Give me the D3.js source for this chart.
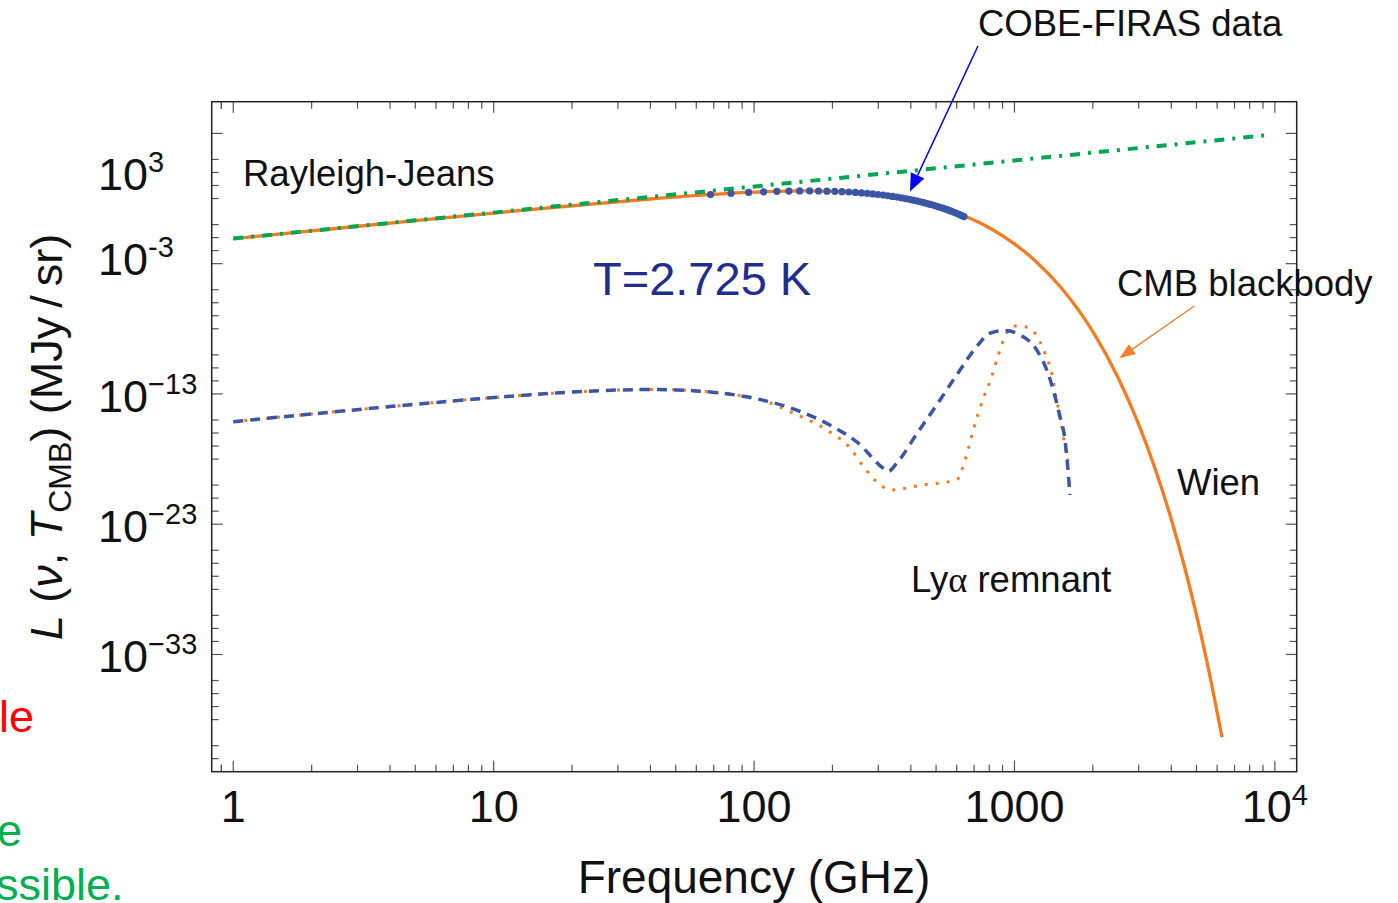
<!DOCTYPE html>
<html><head><meta charset="utf-8">
<script src="https://cdn.jsdelivr.net/npm/d3@7"></script>
<style>
body{margin:0;background:#fff;}
svg{display:block;font-family:"Liberation Sans",Arial,Helvetica,sans-serif;}
</style></head><body>
<svg id="chart" width="1398" height="903"></svg>
<script>
// ---------------- DATA (frequency in GHz, intensity as log10 of MJy/sr) ----------------
const cmbFreq = [1, 2, 5, 10, 20, 40, 70, 100, 160, 250, 400, 600, 800, 1000, 1200, 1500, 2000, 2500, 3000, 3500, 4000, 4500, 5000, 5500, 6266];
const cmbLog  = [-1.081, -0.483, 0.302, 0.884, 1.446, 1.965, 2.318, 2.486, 2.584, 2.456, 1.916, 0.914, -0.241, -1.479, -2.771, -4.775, -8.224, -11.757, -15.344, -18.967, -22.616, -26.287, -29.973, -33.673, -39.360];

const rjFreq = [1, 9500];
const rjLog  = [-1.077, 6.878];

const firasFreq = [68.05, 81.54, 95.33, 108.8, 122.3, 136.1, 149.6, 163.4, 176.9, 190.4, 204.2, 217.6, 231.1, 244.9, 258.4, 272.2, 285.7, 299.2, 313.0, 326.5, 340.0, 353.8, 367.2, 381.0, 394.5, 408.0, 421.8, 435.3, 448.8, 462.6, 476.1, 489.9, 503.4, 516.8, 530.6, 544.1, 557.9, 571.4, 584.9, 598.7, 612.2, 625.7, 639.5];
const firasMJy  = [200.7, 249.5, 293.0, 327.8, 354.1, 372.1, 381.5, 383.5, 378.9, 368.8, 354.1, 336.3, 316.1, 293.9, 271.4, 248.2, 225.9, 204.3, 183.3, 163.8, 145.8, 128.8, 113.6, 99.45, 86.72, 75.33, 65.17, 56.14, 48.18, 41.18, 35.14, 29.91, 25.34, 21.44, 18.08, 15.17, 12.72, 10.62, 8.836, 7.337, 6.078, 5.038, 4.147];

const lyaDashedFreq = [1, 2, 4, 8, 18, 30, 40, 50, 60, 80, 105, 150, 200, 250, 313, 327, 353, 427, 503, 600, 716, 805, 919, 1050, 1217, 1330, 1409, 1495, 1563, 1609, 1633];
const lyaDashedLog  = [-15.13, -14.54, -13.97, -13.44, -12.91, -12.70, -12.66, -12.69, -12.77, -13.01, -13.42, -14.34, -15.50, -16.74, -18.70, -18.96, -18.32, -15.89, -13.84, -11.54, -9.37, -8.34, -8.14, -8.47, -9.62, -11.16, -12.69, -14.74, -16.53, -19.09, -20.75];

const lyaDottedFreq = [1, 2, 4, 8, 18, 30, 40, 50, 60, 80, 105, 141, 190, 234, 263, 305, 333, 447, 600, 646, 695, 759, 818, 867, 933, 1004, 1097, 1199, 1309, 1390, 1443, 1495, 1563, 1609];
const lyaDottedLog  = [-15.13, -14.54, -13.97, -13.44, -12.91, -12.70, -12.66, -12.69, -12.77, -13.01, -13.42, -14.46, -15.76, -17.17, -18.58, -19.98, -20.37, -19.98, -19.60, -18.07, -15.76, -13.33, -11.67, -10.01, -8.34, -7.78, -7.84, -8.34, -9.88, -11.41, -13.21, -14.74, -17.04, -18.32];

// axis ticks
const xTickValues = [1, 10, 100, 1000, 10000];
const xTickBase   = ["1", "10", "100", "1000", "10"];
const xTickSup    = ["", "", "", "", "4"];
const yMajorExps  = [7, -3, -13, -23, -33];
const yMinorExps  = [5,4,3,2,0,-1,-2,-5,-6,-7,-8,-10,-11,-12,-15,-16,-17,-18,-20,-21,-22,-25,-26,-27,-28,-30,-31,-32,-35,-36,-37,-38,-40,-41];
const yLabelExps  = [4, -2.5, -13, -23, -33];   // where each label sits
const yLabelSup   = ["3", "-3", "\u221213", "\u221223", "\u221233"];

// annotation arrows (data coordinates: GHz, log10 MJy/sr)
const firasArrow = [[724, 13.71], [397, 2.53]];
const cmbArrow   = [[4904, -6.25], [2527, -10.26]];

// ---------------- DRAWING ----------------
const svg = d3.select("#chart");
const L = 211.7, R = 1296.7, T = 101.7, B = 771.7;
const x = d3.scaleLog().domain([0.8264, 12129]).range([L, R]);
const y = d3.scaleLog().domain([1e-42, Math.pow(10, 9.433)]).range([B, T]);

const ORANGE = "#f47b20", GREEN = "#00a651", BLUE = "#3b56a5";

svg.append("defs").append("clipPath").attr("id","clip")
  .append("rect").attr("x",L).attr("y",T).attr("width",R-L).attr("height",B-T);

// ticks
const tickG = svg.append("g").attr("stroke","#555").attr("stroke-width",1.2);
const xMinor = [];
[0.1,1,10,100,1000].forEach(d => { for (let k=2;k<=9;k++){ const v=d*k; if (v>0.83 && v<12000 && !xTickValues.includes(v)) xMinor.push(v);} });
xMinor.push(0.9);
function vt(v, len){
  tickG.append("line").attr("x1",x(v)).attr("x2",x(v)).attr("y1",B).attr("y2",B-len);
  tickG.append("line").attr("x1",x(v)).attr("x2",x(v)).attr("y1",T).attr("y2",T+len);
}
xTickValues.forEach(v => vt(v, 11));
xMinor.forEach(v => vt(v, 7));
function ht(e, len){
  const yy = y(Math.pow(10,e));
  tickG.append("line").attr("x1",L).attr("x2",L+len).attr("y1",yy).attr("y2",yy);
  tickG.append("line").attr("x1",R).attr("x2",R-len).attr("y1",yy).attr("y2",yy);
}
yMajorExps.forEach(e => ht(e, 11));
yMinorExps.forEach(e => ht(e, 7));

svg.append("rect").attr("x",L).attr("y",T).attr("width",R-L).attr("height",B-T)
  .attr("fill","none").attr("stroke","#222").attr("stroke-width",1.5);

// tick labels
xTickValues.forEach((v,i) => {
  const t = svg.append("text").attr("x", x(v)).attr("y", 821.7).attr("text-anchor","middle")
    .attr("font-size",45).attr("fill","#111");
  t.append("tspan").text(xTickBase[i]);
  if (xTickSup[i]) t.append("tspan").attr("dy",-17).attr("font-size",29).text(xTickSup[i]);
});
yLabelExps.forEach((e,i) => {
  const t = svg.append("text").attr("x", 98).attr("y", y(Math.pow(10,e)) + 18)
    .attr("font-size",45).attr("fill","#111");
  t.append("tspan").text("10");
  t.append("tspan").attr("dy",-18).attr("font-size",29).text(yLabelSup[i]);
});

// axis titles
svg.append("text").attr("x",754).attr("y",893).attr("text-anchor","middle")
  .attr("font-size",46).attr("fill","#111").text("Frequency (GHz)");
const yl = svg.append("text").attr("transform","translate(62,437) rotate(-90)")
  .attr("text-anchor","middle").attr("font-size",45).attr("fill","#111");
yl.append("tspan").attr("font-style","italic").text("L");
yl.append("tspan").text(" (");
yl.append("tspan").attr("font-style","italic").text("\u03bd");
yl.append("tspan").text(", ");
yl.append("tspan").attr("font-style","italic").text("T");
yl.append("tspan").attr("font-size",32).attr("dy",9).text("CMB");
yl.append("tspan").attr("dy",-9).text(") (MJy\u2009/\u2009sr)");

// series
const line = d3.line().x(d => x(d[0])).y(d => y(Math.pow(10, d[1]))).curve(d3.curveMonotoneX);
const plot = svg.append("g").attr("clip-path","url(#clip)");

plot.append("path").datum(cmbFreq.map((f,i)=>[f,cmbLog[i]])).attr("d",line)
  .attr("fill","none").attr("stroke",ORANGE).attr("stroke-width",3.3);
plot.append("path").datum(rjFreq.map((f,i)=>[f,rjLog[i]])).attr("d",line)
  .attr("fill","none").attr("stroke",GREEN).attr("stroke-width",4)
  .attr("stroke-dasharray","10,8,3,8");
plot.append("g").selectAll("circle").data(firasFreq.map((f,i)=>[f,firasMJy[i]])).join("circle")
  .attr("cx",d=>x(d[0])).attr("cy",d=>y(d[1])).attr("r",3.6).attr("fill",BLUE);
plot.append("path").datum(lyaDottedFreq.map((f,i)=>[f,lyaDottedLog[i]])).attr("d",line)
  .attr("fill","none").attr("stroke",ORANGE).attr("stroke-width",3)
  .attr("stroke-dasharray","3,8");
plot.append("path").datum(lyaDashedFreq.map((f,i)=>[f,lyaDashedLog[i]])).attr("d",line)
  .attr("fill","none").attr("stroke",BLUE).attr("stroke-width",3.5)
  .attr("stroke-dasharray","10,7");

// annotations
function arrow(pts, color, w, headLen, headW){
  const [a,b] = pts.map(p => [x(p[0]), y(Math.pow(10,p[1]))]);
  const dx=b[0]-a[0], dy=b[1]-a[1], len=Math.hypot(dx,dy), ux=dx/len, uy=dy/len;
  const bx=b[0]-ux*headLen, by=b[1]-uy*headLen;
  svg.append("line").attr("x1",a[0]).attr("y1",a[1]).attr("x2",bx).attr("y2",by)
    .attr("stroke",color).attr("stroke-width",w);
  svg.append("polygon").attr("fill",color).attr("points",
    [[b[0],b[1]],[bx-uy*headW/2,by+ux*headW/2],[bx+uy*headW/2,by-ux*headW/2]].map(p=>p.join(",")).join(" "));
}
arrow(firasArrow, "#0000ff", 1.5, 18, 15);
arrow(cmbArrow, "#f08030", 1.5, 16, 12);

const ann = (tx, ty, s, size, color) => svg.append("text").attr("x",tx).attr("y",ty)
  .attr("font-size",size).attr("fill",color||"#111").text(s);
ann(243, 186, "Rayleigh-Jeans", 36.5);
ann(978, 36, "COBE-FIRAS data", 36.5);
ann(1117, 296, "CMB blackbody", 36.5);
ann(1177, 495, "Wien", 36.5);
ann(593, 295, "T=2.725 K", 47, "#1f2d8e");
const ly = svg.append("text").attr("x",911).attr("y",592).attr("font-size",36.5).attr("fill","#111");
ly.append("tspan").text("Ly");
ly.append("tspan").attr("font-family","'Liberation Serif','Times New Roman',serif").text("\u03b1");
ly.append("tspan").text(" remnant");

// cut-off slide text at the left edge (cropped in the reference as well)
ann(-1, 732, "le", 45, "#ff0000");
ann(-3, 846, "e", 45, "#00b050");
ann(-4, 900, "ssible.", 45, "#00b050");
</script>
</body></html>
